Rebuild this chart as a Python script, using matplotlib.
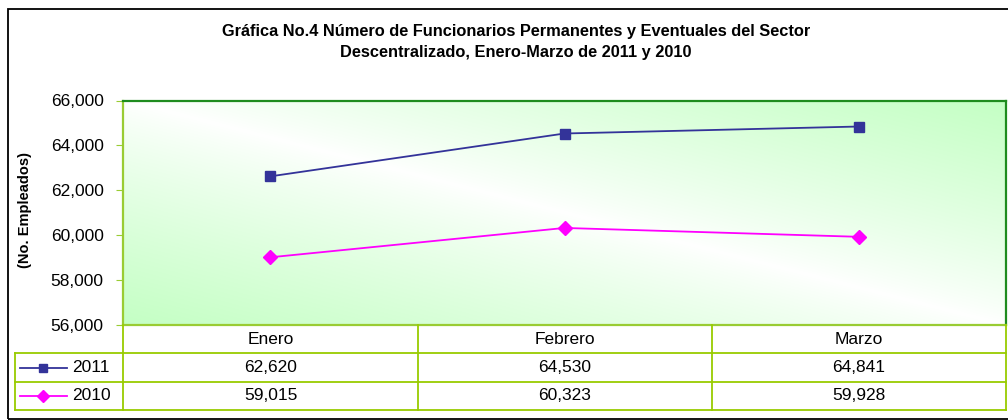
import numpy as np
import matplotlib
matplotlib.use("Agg")
import matplotlib.pyplot as plt
from matplotlib.lines import Line2D
from matplotlib.patches import Rectangle

categories = ["Enero", "Febrero", "Marzo"]
series_names = ["2011", "2010"]
values_2011 = [62620, 64530, 64841]
values_2010 = [59015, 60323, 59928]
yticks = [56000, 58000, 60000, 62000, 64000, 66000]
title = ("Gráfica No.4 Número de Funcionarios Permanentes y Eventuales del Sector\n"
         "Descentralizado, Enero-Marzo de 2011 y 2010")
ylabel = "(No. Empleados)"

plt.rcParams['font.family'] = ['Liberation Sans', 'DejaVu Sans']

W, H = 1008, 420
fig = plt.figure(figsize=(W / 100, H / 100), dpi=100)

def fx(px):
    return px / W

def fy(py):
    return 1 - py / H

# outer border
fig.patches.append(Rectangle((fx(8), fy(419)), fx(1012) - fx(8), fy(9) - fy(419),
                             transform=fig.transFigure, fill=False, ec='black', lw=1.3))

L, R, T, B = 123, 1006, 100.5, 325
ax = fig.add_axes([fx(L), fy(B), fx(R) - fx(L), fy(T) - fy(B)])

# gradient background
n = 200
u = np.linspace(0, 1, n)
v = np.linspace(0, 1, n)
U, V = np.meshgrid(u, v)
d = (U + V) / 2
g = np.abs(d - 0.5) * 2
g = np.clip(g, 0, 1) ** 0.85
green = np.array([196, 255, 196]) / 255
white = np.array([1, 1, 1])
img = white[None, None, :] * (1 - g[..., None]) + green[None, None, :] * g[..., None]
ax.imshow(img, extent=[-0.5, 2.5, 56000, 66000], origin='lower', aspect='auto', zorder=0)

x = np.arange(len(categories))
ax.plot(x, values_2011, color='#333399', lw=1.3, marker='s', ms=7.5, zorder=3)
ax.plot(x, values_2010, color='#FF00FF', lw=1.3, marker='D', ms=7, zorder=3)

ax.set_xlim(-0.5, 2.5)
ax.set_ylim(56000, 66000)
ax.set_yticks(yticks)
ax.set_yticklabels([f"{t:,}" for t in yticks], fontsize=12.5)
ax.set_xticks([])
ax.tick_params(axis='y', direction='out', length=5, color='#99CC33', pad=9)
for s in ['top', 'right']:
    ax.spines[s].set_color('#1E8C1E')
    ax.spines[s].set_linewidth(1.6)
for s in ['left', 'bottom']:
    ax.spines[s].set_color('#99CC33')
    ax.spines[s].set_linewidth(1.6)

fig.text(fx(25), fy((T + B) / 2 - 3), ylabel, rotation=90, ha='center', va='center',
         fontsize=10.5, fontweight='bold')

fig.text(fx(516), fy(42), title, ha='center', va='center', fontsize=11.8,
         fontweight='bold', linespacing=1.5)

# data table
tc = '#99CC00'
col_edges = [L, 418, 712, R]
row_edges = [B, 353, 382, 410]

def hline(y, x0, x1):
    fig.add_artist(Line2D([fx(x0), fx(x1)], [fy(y), fy(y)], transform=fig.transFigure,
                          color=tc, lw=1.3))

def vline(xp, y0, y1):
    fig.add_artist(Line2D([fx(xp), fx(xp)], [fy(y0), fy(y1)], transform=fig.transFigure,
                          color=tc, lw=1.3))

hline(353, 15, R)
hline(382, 15, R)
hline(410, 15, R)
vline(15, 353, 410)
vline(L, B, 410)
for xe in col_edges[1:]:
    vline(xe, B, 410)

for i, c in enumerate(categories):
    cx = (col_edges[i] + col_edges[i + 1]) / 2
    fig.text(fx(cx), fy(339), c, ha='center', va='center', fontsize=12.5)
    fig.text(fx(cx), fy(368), f"{values_2011[i]:,}", ha='center', va='center', fontsize=12.5)
    fig.text(fx(cx), fy(396), f"{values_2010[i]:,}", ha='center', va='center', fontsize=12.5)

# legend keys in table
for yrow, name, col, mk in [(368, series_names[0], '#333399', 's'),
                            (396, series_names[1], '#FF00FF', 'D')]:
    fig.add_artist(Line2D([fx(20), fx(67)], [fy(yrow), fy(yrow)], transform=fig.transFigure,
                          color=col, lw=1.3))
    fig.add_artist(Line2D([fx(43)], [fy(yrow)], transform=fig.transFigure, color=col,
                          marker=mk, ms=6, lw=0))
    fig.text(fx(72), fy(yrow), name, ha='left', va='center', fontsize=12.5)

fig.savefig("out.png", dpi=100)
